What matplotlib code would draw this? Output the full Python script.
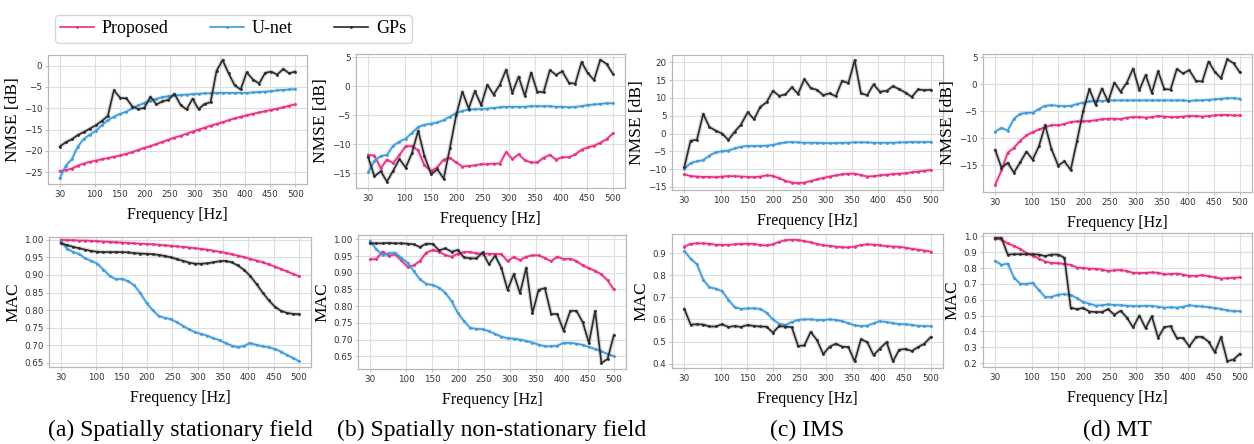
import numpy as np
import matplotlib
matplotlib.use("Agg")
import matplotlib.pyplot as plt
from matplotlib.lines import Line2D

# --- DATA ---
freqs = [30, 42, 54, 66, 78, 90, 102, 114, 126, 138, 151, 163, 175, 187, 199, 211,
         223, 235, 247, 259, 271, 283, 295, 307, 319, 331, 343, 355, 367, 379, 391,
         403, 416, 428, 440, 452, 464, 476, 488, 500]
xticks = [30, 100, 150, 200, 250, 300, 350, 400, 450, 500]

# (a) spatially stationary field
prop_nmse_a = [-24.8, -24.5, -24.2, -23.5, -23.0, -22.6, -22.3, -22.0, -21.7, -21.4,
               -21.1, -20.7, -20.3, -19.8, -19.3, -18.9, -18.4, -17.9, -17.4, -16.9,
               -16.5, -16.0, -15.5, -15.0, -14.6, -14.1, -13.7, -13.3, -12.8, -12.4,
               -12.0, -11.7, -11.3, -11.0, -10.7, -10.4, -10.1, -9.8, -9.4, -9.1]
unet_nmse_a = [-26.5, -23.5, -22.0, -19.0, -17.2, -16.2, -15.3, -14.0, -12.8, -12.0,
               -11.3, -10.8, -10.0, -9.3, -8.8, -8.2, -7.8, -7.4, -7.2, -7.0,
               -6.9, -6.8, -6.7, -6.6, -6.5, -6.5, -6.4, -6.4, -6.4, -6.4,
               -6.4, -6.4, -6.3, -6.2, -6.1, -6.0, -5.8, -5.7, -5.6, -5.5]
gps_nmse_a = [-19.0, -18.0, -17.3, -16.3, -15.6, -14.8, -14.0, -13.0, -11.8, -5.8,
              -7.6, -7.7, -9.6, -10.2, -9.9, -7.3, -9.1, -8.4, -8.0, -6.6,
              -9.2, -10.3, -7.8, -10.2, -9.0, -8.6, -1.2, 1.3, -1.8, -4.6,
              -5.6, -1.6, -3.3, -4.2, -1.7, -1.4, -2.1, -0.8, -1.8, -1.4]
prop_mac_a = [1.0, 0.999, 0.999, 0.998, 0.998, 0.997, 0.996, 0.995, 0.994, 0.993,
              0.992, 0.991, 0.990, 0.989, 0.988, 0.987, 0.986, 0.984, 0.983, 0.981,
              0.980, 0.978, 0.976, 0.974, 0.972, 0.969, 0.966, 0.963, 0.959, 0.955,
              0.951, 0.946, 0.941, 0.936, 0.930, 0.924, 0.917, 0.910, 0.903, 0.896]
unet_mac_a = [0.995, 0.975, 0.965, 0.960, 0.947, 0.940, 0.932, 0.915, 0.898, 0.888,
              0.889, 0.882, 0.870, 0.848, 0.820, 0.800, 0.783, 0.778, 0.774, 0.765,
              0.755, 0.745, 0.737, 0.732, 0.727, 0.720, 0.714, 0.706, 0.699, 0.694,
              0.698, 0.706, 0.701, 0.697, 0.694, 0.689, 0.682, 0.672, 0.664, 0.654]
gps_mac_a = [0.990, 0.985, 0.980, 0.976, 0.972, 0.968, 0.966, 0.965, 0.965, 0.965,
             0.965, 0.964, 0.962, 0.961, 0.960, 0.959, 0.957, 0.954, 0.950, 0.945,
             0.940, 0.935, 0.932, 0.932, 0.933, 0.936, 0.939, 0.940, 0.936, 0.927,
             0.915, 0.898, 0.874, 0.850, 0.828, 0.810, 0.798, 0.792, 0.789, 0.788]

# (b) spatially non-stationary field
prop_nmse_b = [-11.8, -11.9, -14.1, -12.6, -13.2, -11.8, -10.3, -10.3, -11.0, -13.6,
               -14.6, -13.9, -12.6, -12.3, -13.1, -13.8, -13.7, -13.6, -13.4, -13.4,
               -13.3, -13.3, -11.3, -12.5, -11.7, -12.7, -13.1, -13.1, -12.3, -11.8,
               -12.6, -12.2, -12.2, -11.7, -10.9, -10.5, -10.2, -9.7, -9.1, -8.1]
unet_nmse_b = [-14.8, -12.8, -12.0, -11.8, -10.2, -9.5, -9.0, -8.0, -7.0, -6.6,
               -6.4, -6.2, -5.8, -5.2, -4.6, -4.2, -4.0, -3.9, -3.9, -3.8,
               -3.7, -3.6, -3.5, -3.5, -3.5, -3.5, -3.4, -3.4, -3.4, -3.4,
               -3.5, -3.5, -3.6, -3.5, -3.4, -3.2, -3.1, -3.0, -2.9, -2.9]
gps_nmse_b = [-12.2, -15.5, -14.6, -16.4, -14.5, -12.5, -14.0, -11.5, -7.6, -12.0,
              -15.1, -14.3, -15.9, -10.6, -5.0, -0.9, -3.8, -0.8, -3.2, 0.3,
              -1.4, 0.3, 2.9, -1.1, 1.7, -1.6, 2.4, -0.9, -1.0, 2.8,
              2.0, 2.6, 0.6, 0.5, 4.2, 2.3, 1.1, 4.6, 3.9, 2.2]
prop_mac_b = [0.940, 0.941, 0.963, 0.950, 0.955, 0.937, 0.918, 0.922, 0.935, 0.960,
              0.968, 0.963, 0.953, 0.948, 0.957, 0.962, 0.962, 0.958, 0.957, 0.957,
              0.956, 0.956, 0.935, 0.947, 0.938, 0.948, 0.952, 0.952, 0.944, 0.935,
              0.948, 0.941, 0.942, 0.935, 0.922, 0.913, 0.906, 0.895, 0.877, 0.850]
unet_mac_b = [0.995, 0.970, 0.953, 0.958, 0.960, 0.945, 0.930, 0.905, 0.880, 0.867,
              0.863, 0.855, 0.840, 0.815, 0.780, 0.755, 0.735, 0.732, 0.731, 0.725,
              0.717, 0.709, 0.704, 0.703, 0.700, 0.696, 0.691, 0.685, 0.680, 0.680,
              0.682, 0.690, 0.690, 0.688, 0.684, 0.678, 0.672, 0.665, 0.657, 0.650]
gps_mac_b = [0.988, 0.988, 0.988, 0.989, 0.988, 0.988, 0.987, 0.985, 0.977, 0.987,
             0.986, 0.967, 0.973, 0.963, 0.968, 0.946, 0.943, 0.943, 0.961, 0.925,
             0.951, 0.915, 0.849, 0.896, 0.839, 0.915, 0.779, 0.849, 0.854, 0.777,
             0.776, 0.727, 0.786, 0.786, 0.752, 0.690, 0.786, 0.630, 0.642, 0.713]

# (c) IMS
prop_nmse_c = [-11.5, -12.0, -12.1, -12.2, -12.2, -12.3, -12.1, -12.0, -12.0, -12.1,
               -12.2, -12.3, -12.1, -11.8, -11.9, -12.6, -13.3, -13.8, -14.0, -13.8,
               -13.4, -12.9, -12.5, -12.1, -11.8, -11.5, -11.3, -11.3, -11.7, -12.1,
               -12.0, -11.8, -11.6, -11.4, -11.3, -11.2, -10.9, -10.7, -10.5, -10.3]
unet_nmse_c = [-10.0, -8.3, -7.8, -7.5, -6.2, -5.3, -5.0, -4.8, -4.2, -3.7,
               -3.5, -3.5, -3.5, -3.4, -3.2, -2.8, -2.5, -2.4, -2.5, -2.6,
               -2.6, -2.6, -2.7, -2.7, -2.7, -2.6, -2.6, -2.5, -2.5, -2.5,
               -2.6, -2.6, -2.6, -2.6, -2.5, -2.5, -2.4, -2.4, -2.4, -2.4]
gps_nmse_c = [-9.5, -2.0, -1.8, 5.5, 1.8, 0.8, 0.0, -1.8, 0.5, 2.5,
              6.0, 4.0, 7.5, 8.8, 12.0, 10.6, 11.0, 13.0, 11.2, 15.3,
              12.8, 12.3, 10.8, 11.3, 10.5, 14.8, 14.2, 20.6, 11.3, 10.8,
              13.8, 11.8, 12.0, 13.3, 12.5, 11.5, 10.3, 12.4, 12.2, 12.3]
prop_mac_c = [0.930, 0.942, 0.945, 0.944, 0.943, 0.938, 0.938, 0.938, 0.940, 0.942,
              0.943, 0.942, 0.937, 0.935, 0.940, 0.952, 0.959, 0.961, 0.960, 0.955,
              0.949, 0.942, 0.936, 0.933, 0.930, 0.927, 0.926, 0.930, 0.937, 0.940,
              0.939, 0.936, 0.932, 0.930, 0.929, 0.925, 0.920, 0.916, 0.912, 0.907]
unet_mac_c = [0.910, 0.875, 0.850, 0.780, 0.745, 0.740, 0.728, 0.690, 0.655, 0.648,
              0.650, 0.650, 0.648, 0.630, 0.600, 0.580, 0.575, 0.588, 0.598, 0.600,
              0.600, 0.598, 0.597, 0.600, 0.598, 0.592, 0.583, 0.573, 0.570, 0.572,
              0.582, 0.592, 0.588, 0.583, 0.579, 0.578, 0.575, 0.571, 0.570, 0.569]
gps_mac_c = [0.648, 0.577, 0.578, 0.577, 0.568, 0.568, 0.578, 0.566, 0.570, 0.566,
             0.575, 0.570, 0.568, 0.567, 0.540, 0.570, 0.567, 0.565, 0.480, 0.482,
             0.543, 0.507, 0.443, 0.476, 0.490, 0.477, 0.475, 0.410, 0.510, 0.497,
             0.438, 0.468, 0.497, 0.410, 0.463, 0.466, 0.457, 0.475, 0.490, 0.520]

# (d) MT
prop_nmse_d = [-18.7, -16.0, -12.7, -11.8, -10.5, -9.5, -8.9, -8.4, -8.0, -7.6,
               -7.6, -7.4, -7.0, -6.9, -6.9, -6.8, -6.7, -6.5, -6.4, -6.4,
               -6.5, -6.2, -6.1, -6.1, -6.2, -6.1, -5.9, -6.0, -6.1, -6.1,
               -6.0, -5.9, -5.9, -6.0, -5.9, -5.8, -5.7, -5.7, -5.8, -5.8]
unet_nmse_d = [-8.8, -8.1, -8.6, -6.4, -5.5, -5.3, -5.3, -4.6, -4.0, -3.9,
               -4.0, -4.1, -4.0, -3.7, -3.4, -3.2, -3.1, -3.1, -3.0, -3.0,
               -3.0, -3.0, -3.0, -3.0, -3.0, -3.0, -3.0, -3.0, -3.0, -3.0,
               -3.0, -3.1, -3.0, -3.0, -2.9, -2.8, -2.7, -2.6, -2.6, -2.7]
gps_nmse_d = gps_nmse_b  # same GP curve in both panels
prop_mac_d = [0.985, 0.980, 0.955, 0.940, 0.920, 0.895, 0.878, 0.860, 0.840, 0.832,
              0.830, 0.825, 0.820, 0.803, 0.800, 0.796, 0.795, 0.790, 0.781, 0.785,
              0.788, 0.780, 0.770, 0.768, 0.770, 0.772, 0.770, 0.760, 0.762, 0.765,
              0.758, 0.750, 0.750, 0.755, 0.748, 0.742, 0.733, 0.736, 0.738, 0.741]
unet_mac_d = [0.845, 0.820, 0.828, 0.740, 0.700, 0.700, 0.705, 0.660, 0.617, 0.617,
              0.632, 0.635, 0.630, 0.610, 0.585, 0.575, 0.563, 0.565, 0.570, 0.567,
              0.565, 0.562, 0.560, 0.560, 0.562, 0.560, 0.556, 0.550, 0.552, 0.550,
              0.555, 0.565, 0.560, 0.557, 0.553, 0.547, 0.542, 0.532, 0.528, 0.527]
gps_mac_d = [0.990, 0.990, 0.885, 0.887, 0.887, 0.887, 0.887, 0.885, 0.875, 0.885,
             0.885, 0.865, 0.550, 0.540, 0.548, 0.525, 0.522, 0.522, 0.540, 0.505,
             0.530, 0.487, 0.425, 0.500, 0.420, 0.495, 0.360, 0.427, 0.432, 0.358,
             0.358, 0.305, 0.365, 0.365, 0.335, 0.268, 0.365, 0.212, 0.222, 0.258]

captions = ["(a) Spatially stationary field", "(b) Spatially non-stationary field",
            "(c) IMS", "(d) MT"]

# --- STYLE ---
C_PROP = "#e62e82"
C_UNET = "#3e9ad8"
C_GPS = "#2a2a2a"
SERIF = "Liberation Serif"

nmse_sets = [(prop_nmse_a, unet_nmse_a, gps_nmse_a), (prop_nmse_b, unet_nmse_b, gps_nmse_b),
             (prop_nmse_c, unet_nmse_c, gps_nmse_c), (prop_nmse_d, unet_nmse_d, gps_nmse_d)]
mac_sets = [(prop_mac_a, unet_mac_a, gps_mac_a), (prop_mac_b, unet_mac_b, gps_mac_b),
            (prop_mac_c, unet_mac_c, gps_mac_c), (prop_mac_d, unet_mac_d, gps_mac_d)]

nmse_ticks = [np.arange(-25, 1, 5), np.arange(-15, 6, 5), np.arange(-15, 21, 5), np.arange(-15, 6, 5)]
nmse_lims = [(-27.8, 2.5), (-17.5, 5.6), (-15.9, 22.1), (-20.0, 5.6)]
mac_ticks = [np.arange(0.65, 1.001, 0.05), np.arange(0.65, 1.001, 0.05),
             np.arange(0.4, 0.901, 0.1), np.arange(0.2, 1.001, 0.1)]
mac_lims = [(0.638, 1.008), (0.612, 1.013), (0.38, 0.987), (0.175, 1.021)]
mac_fmt = ["%.2f", "%.2f", "%.1f", "%.1f"]

# axes boxes in pixels: left, right, top, bottom
W, H = 1254, 444
top_boxes = [(48, 307, 55, 184), (356, 625, 54, 188), (672, 943, 55, 190), (983, 1252, 54, 192)]
bot_boxes = [(49, 311, 237, 367), (358, 626, 235, 369), (672, 943, 234, 368), (983, 1252, 233, 367)]

fig = plt.figure(figsize=(W / 100, H / 100), dpi=100)


def make_ax(box):
    l, r, t, b = box
    return fig.add_axes([l / W, 1 - b / H, (r - l) / W, (b - t) / H])


def style_ax(ax, yticks, ylim, fmt, ylabel):
    ax.set_xticks(xticks)
    ax.set_xlim(6.5, 523.5)
    ax.set_yticks(yticks)
    ax.set_ylim(*ylim)
    ax.yaxis.set_major_formatter(matplotlib.ticker.FormatStrFormatter(fmt))
    ax.grid(True, color="#dedede", linewidth=0.8)
    ax.set_axisbelow(True)
    for s in ax.spines.values():
        s.set_color("#b8b8b8")
        s.set_linewidth(0.9)
    ax.tick_params(labelsize=6.3, colors="#333333", length=2, width=0.6, pad=2)
    ax.tick_params(axis="both", color="#b8b8b8")
    ax.set_xlabel("Frequency [Hz]", family=SERIF, fontsize=11.5, labelpad=6)
    ax.set_ylabel(ylabel, family=SERIF, fontsize=12.5, labelpad=2)


def draw(ax, series):
    for vals, c in zip(series, (C_PROP, C_UNET, C_GPS)):
        ax.plot(freqs, vals, color=c, lw=3.0, alpha=0.18, solid_capstyle="round")
        ax.plot(freqs, vals, color=c, lw=1.2, marker=".", markersize=2)


for i in range(4):
    ax = make_ax(top_boxes[i])
    draw(ax, nmse_sets[i])
    style_ax(ax, nmse_ticks[i], nmse_lims[i], "%d", "NMSE [dB]")
    ax.set_yticklabels([("\u2212%d" % -v) if v < 0 else "%d" % v for v in nmse_ticks[i]])

    ax2 = make_ax(bot_boxes[i])
    draw(ax2, mac_sets[i])
    style_ax(ax2, mac_ticks[i], mac_lims[i], mac_fmt[i], "MAC")

    cx = (bot_boxes[i][0] + bot_boxes[i][1]) / 2 / W
    fig.text(cx, 1 - 430 / H, captions[i], family=SERIF, fontsize=17, ha="center", va="center")

handles = [Line2D([], [], color=C_PROP, lw=1.2, marker=".", markersize=2),
           Line2D([], [], color=C_UNET, lw=1.2, marker=".", markersize=2),
           Line2D([], [], color=C_GPS, lw=1.2, marker=".", markersize=2)]
fig.legend(handles, ["Proposed", "U-net", "GPs"], loc="upper left",
           bbox_to_anchor=(46 / W, 1 - 6 / H), ncol=3, frameon=True,
           prop={"family": SERIF, "size": 13}, handlelength=1.85, columnspacing=2.3,
           handletextpad=0.45, borderpad=0.3, edgecolor="#cccccc", fancybox=True)

fig.savefig("out.png", dpi=100)
